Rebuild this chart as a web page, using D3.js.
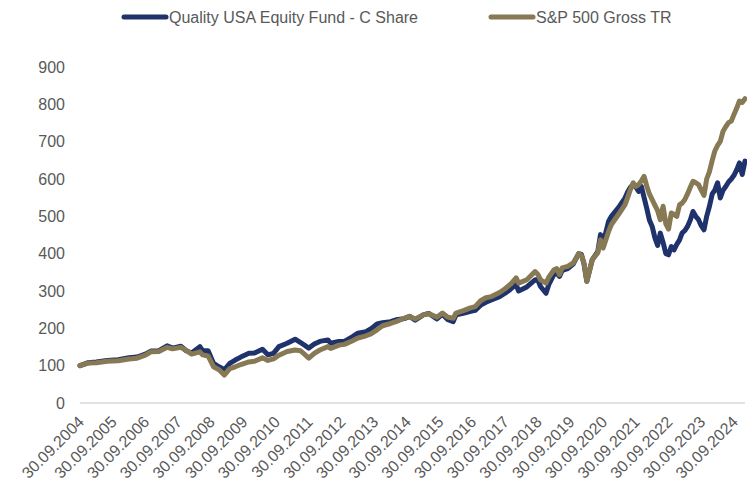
<!DOCTYPE html>
<html>
<head>
<meta charset="utf-8">
<script src="https://cdn.jsdelivr.net/npm/d3@7"></script>
<style>
  body { margin: 0; background: #fff; }
  text { font-family: "Liberation Sans", Arial, sans-serif; fill: #595959; }
</style>
</head>
<body>
<div id="chart"></div>
<script>
// month-end dates
const months = [
  "2004-09","2004-12","2005-03","2005-07","2005-11","2006-03","2006-06","2006-09","2006-11","2007-02",
  "2007-05","2007-07","2007-10","2007-12","2008-02","2008-05","2008-06","2008-08","2008-10","2008-12",
  "2009-02","2009-04","2009-06","2009-08","2009-11","2010-01","2010-04","2010-06","2010-08","2010-10",
  "2011-01","2011-04","2011-06","2011-09","2011-11","2012-01","2012-04","2012-05","2012-08","2012-10",
  "2013-01","2013-03","2013-06","2013-08","2013-10","2013-12","2014-03","2014-05","2014-08","2014-10",
  "2014-12","2015-03","2015-05","2015-08","2015-10","2015-12","2016-02","2016-03","2016-06","2016-08",
  "2016-10","2016-12","2017-02","2017-04","2017-07","2017-09","2017-11","2018-01","2018-02","2018-05",
  "2018-08","2018-09","2018-10","2018-12","2019-01","2019-03","2019-04","2019-05","2019-06","2019-08",
  "2019-10","2019-12","2020-01","2020-02","2020-03","2020-05","2020-07","2020-08","2020-09","2020-11",
  "2020-12","2021-03","2021-05","2021-06","2021-07","2021-08","2021-09","2021-10","2021-11","2021-12",
  "2022-01","2022-02","2022-03","2022-04","2022-05","2022-06","2022-07","2022-08","2022-09","2022-10",
  "2022-11","2022-12","2023-01","2023-02","2023-03","2023-04","2023-05","2023-06","2023-07","2023-08",
  "2023-09","2023-10","2023-11","2023-12","2024-01","2024-02","2024-03","2024-04","2024-05","2024-06",
  "2024-07","2024-08","2024-09","2024-10","2024-11","2024-12","2025-01"
];

const fund = [
  100,108,110,114,116,121,123,131,139,140,
  153,147,152,140,134,151,140,140,106,97,
  89,106,115,123,133,134,144,129,133,151,
  160,171,162,147,158,165,169,160,165,165,
  178,187,191,200,212,215,218,223,226,232,
  222,236,240,225,238,223,218,236,241,245,
  248,262,270,276,285,294,305,317,300,311,
  330,330,312,294,317,345,348,339,355,360,
  372,400,398,372,326,384,405,451,429,487,
  500,527,549,565,578,585,578,567,580,550,
  520,490,473,443,422,455,430,400,397,419,
  410,425,437,455,462,473,490,513,500,491,
  475,464,500,527,560,570,590,549,570,580,
  592,600,610,625,643,612,648
];

const sp500 = [
  100,107,108,112,113,118,120,128,137,138,
  149,145,149,141,131,137,129,126,97,89,
  75,92,97,103,110,112,121,114,118,128,
  138,142,140,120,133,142,151,146,155,157,
  167,174,180,186,196,207,213,218,227,232,
  225,236,239,230,241,230,227,241,248,254,
  258,274,282,285,296,306,318,335,321,330,
  352,345,330,321,337,357,360,344,362,366,
  375,400,395,375,326,384,402,437,415,460,
  478,509,531,550,572,590,580,585,595,607,
  580,560,545,530,515,491,527,480,466,509,
  505,500,531,535,545,560,578,594,590,585,
  570,556,600,620,650,675,690,701,728,740,
  751,755,773,790,809,805,815
];

const seriesNames = ["Quality USA Equity Fund - C Share", "S&P 500 Gross TR"];
const seriesColors = ["#1f326b", "#877953"];
const yTicks = [0, 100, 200, 300, 400, 500, 600, 700, 800, 900];
const xTickYears = d3.range(2004, 2025);

const W = 747, H = 490;
const margin = { top: 67, right: 2, bottom: 87, left: 80 };

const monthEnd = s => { const [y, m] = s.split("-").map(Number); return new Date(y, m, 0); };
const dates = months.map(monthEnd);

let svg = d3.select("#chart").append("svg")
  .attr("width", W)
  .attr("height", H);

let x = d3.scaleTime()
  .domain([dates[0], dates[dates.length - 1]])
  .range([margin.left, W - margin.right]);

let y = d3.scaleLinear()
  .domain([0, 900])
  .range([H - margin.bottom, margin.top]);

// y axis labels only
let yAxis = d3.axisLeft(y)
  .tickValues(yTicks)
  .tickSize(0)
  .tickPadding(15);

svg.append("g")
  .attr("transform", `translate(${margin.left},0)`)
  .call(yAxis)
  .call(g => g.select(".domain").remove())
  .selectAll("text")
  .style("font-size", "16px")
  .style("fill", "#595959")
  .style("font-family", "'Liberation Sans', Arial, sans-serif");

// baseline
svg.append("line")
  .attr("x1", margin.left).attr("x2", W - margin.right)
  .attr("y1", y(0)).attr("y2", y(0))
  .attr("stroke", "#d9d9d9").attr("stroke-width", 1.3);

// x labels, rotated
const fmt = d3.timeFormat("%d.%m.%Y");
const tickDates = xTickYears.map(yr => new Date(yr, 8, 30));
svg.append("g").selectAll("text")
  .data(tickDates)
  .join("text")
  .attr("text-anchor", "end")
  .attr("transform", d => `translate(${x(d) + 5},${y(0) + 20}) rotate(-45)`)
  .style("font-size", "16px")
  .text(d => fmt(d));

// lines
const line = d3.line()
  .x((d, i) => x(dates[i]))
  .y(d => y(d));

[fund, sp500].forEach((vals, k) => {
  svg.append("path")
    .datum(vals)
    .attr("fill", "none")
    .attr("stroke", seriesColors[k])
    .attr("stroke-width", 5)
    .attr("stroke-linejoin", "round")
    .attr("stroke-linecap", "round")
    .attr("d", line);
});

// legend
const legendX = [124, 491];
const legend = svg.append("g");
seriesNames.forEach((name, k) => {
  legend.append("line")
    .attr("x1", legendX[k]).attr("x2", legendX[k] + 42)
    .attr("y1", 17).attr("y2", 17)
    .attr("stroke", seriesColors[k])
    .attr("stroke-width", 5)
    .attr("stroke-linecap", "round");
  legend.append("text")
    .attr("x", legendX[k] + 45)
    .attr("y", 17)
    .attr("dy", "0.35em")
    .style("font-size", "16px")
    .text(name);
});
</script>
</body>
</html>
